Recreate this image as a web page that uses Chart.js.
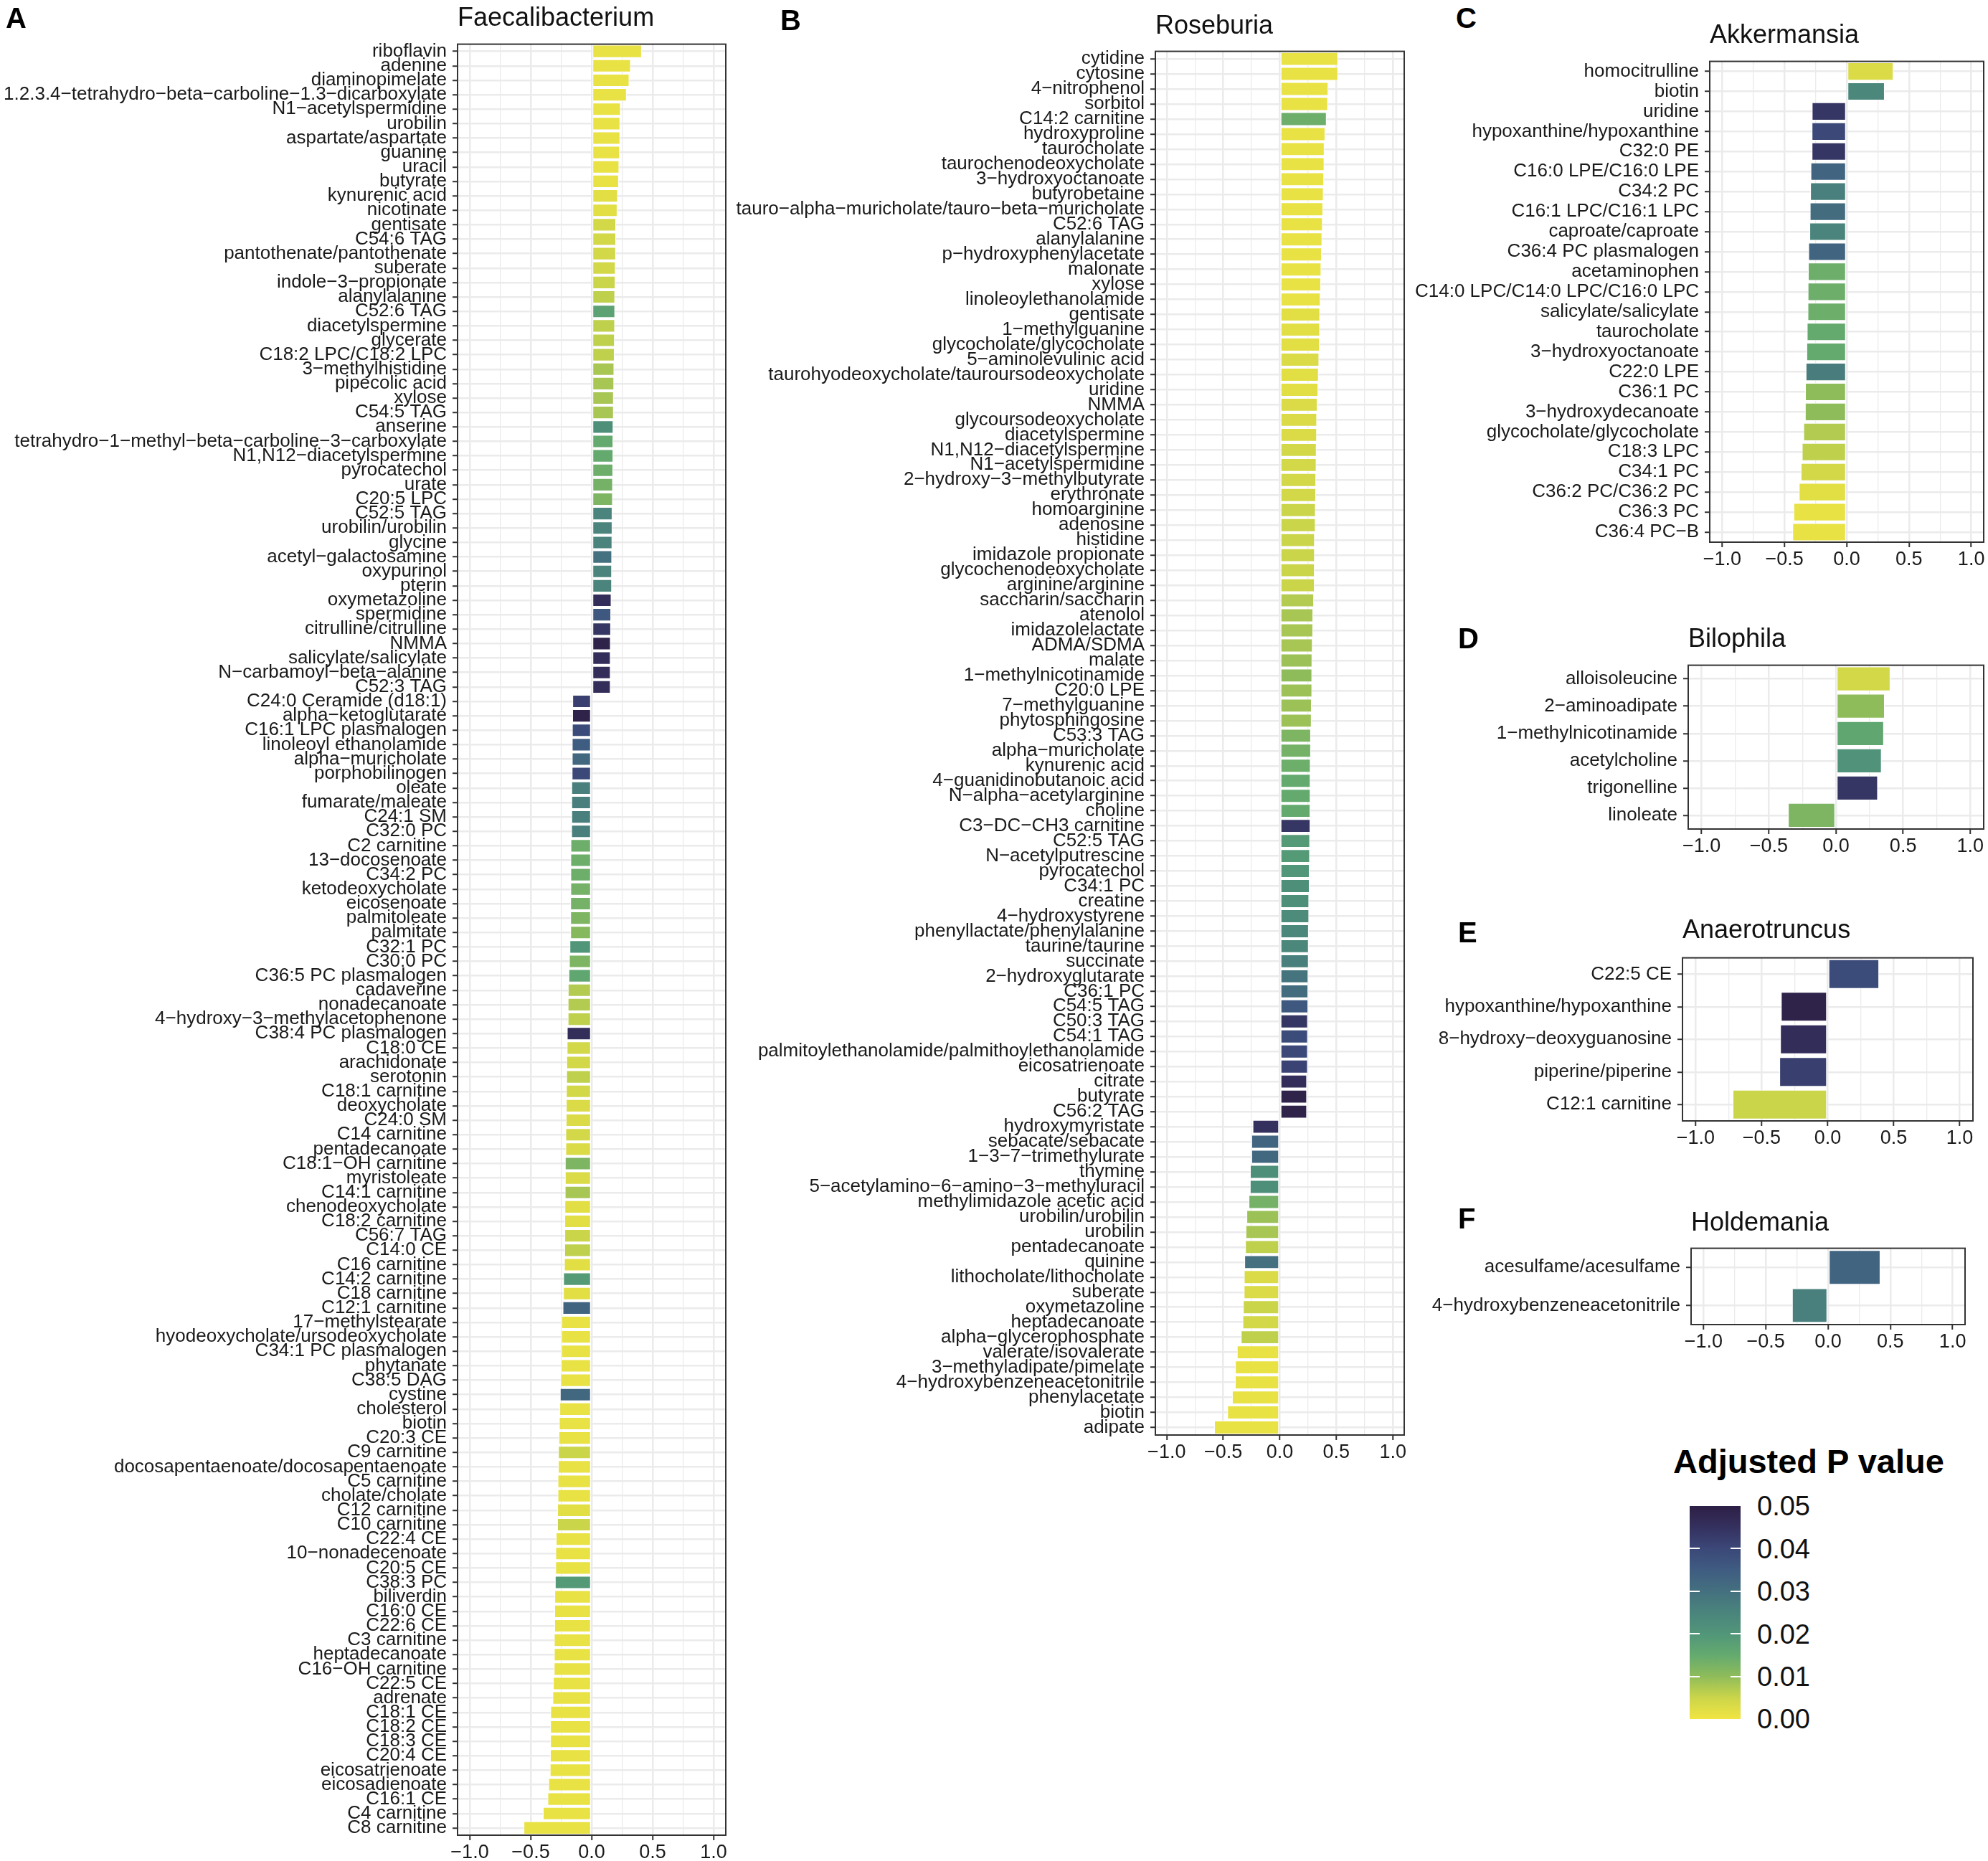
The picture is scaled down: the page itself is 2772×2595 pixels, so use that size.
<!DOCTYPE html>
<html>
<head>
<meta charset="utf-8">
<script src="https://cdn.jsdelivr.net/npm/chart.js@4/dist/chart.umd.min.js"></script>
<style>
html, body { margin: 0; padding: 0; background: #fff; overflow: hidden; }
#page { position: relative; width: 2772px; height: 2595px; background: #fff;
  font-family: 'Liberation Sans', Arial, Helvetica, sans-serif; color: #000; }
.cbox { position: absolute; }
.tag { position: absolute; font-weight: bold; font-size: 40px; line-height: 40px; }
.ttl { position: absolute; font-size: 36px; line-height: 36px; white-space: nowrap; color: #111; }
.lgt { position: absolute; font-weight: bold; font-size: 47px; line-height: 47px; white-space: nowrap; }
.lgl { position: absolute; font-size: 38px; line-height: 38px; color: #111; }
.lgk { position: absolute; height: 2px; width: 14px; background: #fff; }
</style>
</head>
<body>
<div id="page"></div>
<script>
// ---- data ----
const faecaliLabels = ['riboflavin','adenine','diaminopimelate','1.2.3.4-tetrahydro-beta-carboline-1.3-dicarboxylate','N1-acetylspermidine','urobilin','aspartate/aspartate','guanine','uracil','butyrate','kynurenic acid','nicotinate','gentisate','C54:6 TAG','pantothenate/pantothenate','suberate','indole-3-propionate','alanylalanine','C52:6 TAG','diacetylspermine','glycerate','C18:2 LPC/C18:2 LPC','3-methylhistidine','pipecolic acid','xylose','C54:5 TAG','anserine','tetrahydro-1-methyl-beta-carboline-3-carboxylate','N1,N12-diacetylspermine','pyrocatechol','urate','C20:5 LPC','C52:5 TAG','urobilin/urobilin','glycine','acetyl-galactosamine','oxypurinol','pterin','oxymetazoline','spermidine','citrulline/citrulline','NMMA','salicylate/salicylate','N-carbamoyl-beta-alanine','C52:3 TAG','C24:0 Ceramide (d18:1)','alpha-ketoglutarate','C16:1 LPC plasmalogen','linoleoyl ethanolamide','alpha-muricholate','porphobilinogen','oleate','fumarate/maleate','C24:1 SM','C32:0 PC','C2 carnitine','13-docosenoate','C34:2 PC','ketodeoxycholate','eicosenoate','palmitoleate','palmitate','C32:1 PC','C30:0 PC','C36:5 PC plasmalogen','cadaverine','nonadecanoate','4-hydroxy-3-methylacetophenone','C38:4 PC plasmalogen','C18:0 CE','arachidonate','serotonin','C18:1 carnitine','deoxycholate','C24:0 SM','C14 carnitine','pentadecanoate','C18:1-OH carnitine','myristoleate','C14:1 carnitine','chenodeoxycholate','C18:2 carnitine','C56:7 TAG','C14:0 CE','C16 carnitine','C14:2 carnitine','C18 carnitine','C12:1 carnitine','17-methylstearate','hyodeoxycholate/ursodeoxycholate','C34:1 PC plasmalogen','phytanate','C38:5 DAG','cystine','cholesterol','biotin','C20:3 CE','C9 carnitine','docosapentaenoate/docosapentaenoate','C5 carnitine','cholate/cholate','C12 carnitine','C10 carnitine','C22:4 CE','10-nonadecenoate','C20:5 CE','C38:3 PC','biliverdin','C16:0 CE','C22:6 CE','C3 carnitine','heptadecanoate','C16-OH carnitine','C22:5 CE','adrenate','C18:1 CE','C18:2 CE','C18:3 CE','C20:4 CE','eicosatrienoate','eicosadienoate','C16:1 CE','C4 carnitine','C8 carnitine'];
const faecaliValues = [0.411,0.321,0.309,0.287,0.238,0.234,0.234,0.230,0.226,0.223,0.215,0.211,0.200,0.200,0.199,0.196,0.195,0.192,0.192,0.191,0.189,0.188,0.185,0.184,0.181,0.181,0.178,0.177,0.177,0.176,0.174,0.173,0.170,0.170,0.169,0.167,0.166,0.166,0.162,0.159,0.158,0.156,0.155,0.155,0.155,-0.158,-0.159,-0.161,-0.162,-0.162,-0.163,-0.166,-0.166,-0.166,-0.167,-0.173,-0.174,-0.174,-0.174,-0.175,-0.175,-0.175,-0.181,-0.185,-0.189,-0.195,-0.196,-0.196,-0.203,-0.204,-0.207,-0.208,-0.210,-0.211,-0.212,-0.215,-0.215,-0.219,-0.219,-0.220,-0.222,-0.223,-0.223,-0.224,-0.226,-0.233,-0.234,-0.238,-0.248,-0.249,-0.249,-0.253,-0.256,-0.260,-0.264,-0.268,-0.271,-0.275,-0.276,-0.279,-0.279,-0.282,-0.283,-0.294,-0.297,-0.298,-0.301,-0.305,-0.306,-0.306,-0.309,-0.309,-0.310,-0.317,-0.321,-0.339,-0.340,-0.340,-0.341,-0.343,-0.355,-0.362,-0.400,-0.558];
const faecaliP = [0.001,0.001,0.001,0.001,0.001,0.001,0.001,0.001,0.001,0.001,0.002,0.002,0.004,0.004,0.004,0.004,0.005,0.006,0.017,0.006,0.006,0.006,0.008,0.008,0.008,0.008,0.022,0.015,0.015,0.014,0.013,0.012,0.025,0.025,0.025,0.030,0.025,0.025,0.046,0.036,0.044,0.049,0.046,0.046,0.046,0.042,0.049,0.039,0.035,0.032,0.040,0.026,0.026,0.026,0.026,0.014,0.014,0.014,0.013,0.013,0.012,0.011,0.020,0.012,0.016,0.007,0.007,0.006,0.046,0.004,0.004,0.006,0.004,0.003,0.003,0.004,0.003,0.012,0.003,0.008,0.002,0.002,0.005,0.006,0.002,0.019,0.002,0.033,0.001,0.001,0.001,0.001,0.001,0.032,0.001,0.001,0.001,0.005,0.001,0.001,0.001,0.002,0.005,0.001,0.001,0.001,0.019,0.001,0.001,0.001,0.001,0.001,0.001,0.001,0.001,0.001,0.001,0.001,0.001,0.001,0.001,0.001,0.001,0.001];

const roseLabels = ['cytidine','cytosine','4-nitrophenol','sorbitol','C14:2 carnitine','hydroxyproline','taurocholate','taurochenodeoxycholate','3-hydroxyoctanoate','butyrobetaine','tauro-alpha-muricholate/tauro-beta-muricholate','C52:6 TAG','alanylalanine','p-hydroxyphenylacetate','malonate','xylose','linoleoylethanolamide','gentisate','1-methylguanine','glycocholate/glycocholate','5-aminolevulinic acid','taurohyodeoxycholate/tauroursodeoxycholate','uridine','NMMA','glycoursodeoxycholate','diacetylspermine','N1,N12-diacetylspermine','N1-acetylspermidine','2-hydroxy-3-methylbutyrate','erythronate','homoarginine','adenosine','histidine','imidazole propionate','glycochenodeoxycholate','arginine/arginine','saccharin/saccharin','atenolol','imidazolelactate','ADMA/SDMA','malate','1-methylnicotinamide','C20:0 LPE','7-methylguanine','phytosphingosine','C53:3 TAG','alpha-muricholate','kynurenic acid','4-guanidinobutanoic acid','N-alpha-acetylarginine','choline','C3-DC-CH3 carnitine','C52:5 TAG','N-acetylputrescine','pyrocatechol','C34:1 PC','creatine','4-hydroxystyrene','phenyllactate/phenylalanine','taurine/taurine','succinate','2-hydroxyglutarate','C36:1 PC','C54:5 TAG','C50:3 TAG','C54:1 TAG','palmitoylethanolamide/palmithoylethanolamide','eicosatrienoate','citrate','butyrate','C56:2 TAG','hydroxymyristate','sebacate/sebacate','1-3-7-trimethylurate','thymine','5-acetylamino-6-amino-3-methyluracil','methylimidazole acetic acid','urobilin/urobilin','urobilin','pentadecanoate','quinine','lithocholate/lithocholate','suberate','oxymetazoline','heptadecanoate','alpha-glycerophosphate','valerate/isovalerate','3-methyladipate/pimelate','4-hydroxybenzeneacetonitrile','phenylacetate','biotin','adipate'];
const roseValues = [0.515,0.515,0.429,0.426,0.414,0.402,0.395,0.394,0.391,0.387,0.383,0.379,0.375,0.371,0.367,0.364,0.360,0.356,0.355,0.352,0.348,0.344,0.340,0.333,0.329,0.328,0.325,0.324,0.321,0.320,0.317,0.316,0.309,0.309,0.308,0.308,0.302,0.295,0.294,0.290,0.287,0.286,0.286,0.282,0.281,0.275,0.275,0.272,0.271,0.271,0.270,0.270,0.267,0.266,0.263,0.263,0.259,0.259,0.256,0.255,0.255,0.252,0.251,0.251,0.248,0.248,0.247,0.247,0.240,0.240,0.240,-0.240,-0.251,-0.251,-0.263,-0.264,-0.275,-0.294,-0.302,-0.306,-0.313,-0.317,-0.318,-0.325,-0.329,-0.344,-0.379,-0.395,-0.396,-0.422,-0.464,-0.580];
const roseP = [0.001,0.001,0.001,0.001,0.014,0.001,0.001,0.001,0.001,0.001,0.001,0.001,0.001,0.001,0.001,0.001,0.001,0.002,0.002,0.002,0.003,0.002,0.002,0.003,0.003,0.003,0.004,0.004,0.004,0.004,0.005,0.005,0.005,0.005,0.005,0.005,0.007,0.008,0.008,0.008,0.009,0.010,0.009,0.009,0.009,0.012,0.013,0.014,0.015,0.015,0.015,0.044,0.019,0.019,0.020,0.022,0.022,0.023,0.024,0.024,0.026,0.029,0.031,0.036,0.044,0.039,0.040,0.041,0.046,0.049,0.049,0.045,0.033,0.032,0.022,0.022,0.013,0.009,0.008,0.006,0.030,0.003,0.003,0.005,0.004,0.006,0.001,0.001,0.001,0.001,0.001,0.001];

const akkLabels = ['homocitrulline','biotin','uridine','hypoxanthine/hypoxanthine','C32:0 PE','C16:0 LPE/C16:0 LPE','C34:2 PC','C16:1 LPC/C16:1 LPC','caproate/caproate','C36:4 PC plasmalogen','acetaminophen','C14:0 LPC/C14:0 LPC/C16:0 LPC','salicylate/salicylate','taurocholate','3-hydroxyoctanoate','C22:0 LPE','C36:1 PC','3-hydroxydecanoate','glycocholate/glycocholate','C18:3 LPC','C34:1 PC','C36:2 PC/C36:2 PC','C36:3 PC','C36:4 PC-B'];
const akkValues = [0.375,0.305,-0.280,-0.281,-0.281,-0.290,-0.293,-0.296,-0.299,-0.308,-0.311,-0.313,-0.314,-0.320,-0.323,-0.329,-0.334,-0.335,-0.348,-0.360,-0.369,-0.384,-0.427,-0.436];
const akkP = [0.003,0.024,0.044,0.040,0.044,0.033,0.026,0.031,0.025,0.033,0.014,0.014,0.014,0.015,0.015,0.027,0.010,0.010,0.007,0.006,0.004,0.002,0.001,0.001];

const biloLabels = ['alloisoleucine','2-aminoadipate','1-methylnicotinamide','acetylcholine','trigonelline','linoleate'];
const biloValues = [0.405,0.363,0.357,0.340,0.312,-0.357];
const biloP = [0.004,0.010,0.016,0.021,0.044,0.012];

const anaeLabels = ['C22:5 CE','hypoxanthine/hypoxanthine','8-hydroxy-deoxyguanosine','piperine/piperine','C12:1 carnitine'];
const anaeValues = [0.389,-0.354,-0.360,-0.366,-0.720];
const anaeP = [0.039,0.049,0.046,0.042,0.005];

const holdLabels = ['acesulfame/acesulfame','4-hydroxybenzeneacetonitrile'];
const holdValues = [0.420,-0.289];
const holdP = [0.033,0.026];

const xTicks = [-1, -0.75, -0.5, -0.25, 0, 0.25, 0.5, 0.75, 1];
const legendTicks = [0.00, 0.01, 0.02, 0.03, 0.04, 0.05];

// ---- style ----
const P_MAX = 0.05;
const P_STOPS = ['#f1e542','#cbd54a','#8fbc5a','#64aa6f','#519679','#4a847c','#44707f','#3f5c81','#3b4878','#35315f','#2d1f45'];
const PAD_TOP = 20, PAD_R = 6, AX_H = 36;

Chart.defaults.font.family = "'Liberation Sans', Arial, Helvetica, sans-serif";

function hexRgb(h) {
  return [1, 3, 5].map(i => parseInt(h.slice(i, i + 2), 16));
}
function pColor(p) {
  const t = Math.max(0, Math.min(1, p / P_MAX)) * (P_STOPS.length - 1);
  const i = Math.min(Math.floor(t), P_STOPS.length - 2);
  const f = t - i;
  const a = hexRgb(P_STOPS[i]), b = hexRgb(P_STOPS[i + 1]);
  const c = a.map((v, k) => Math.round(v + (b[k] - v) * f));
  return 'rgb(' + c.join(',') + ')';
}
const isMajor = v => Math.abs(v * 2 - Math.round(v * 2)) < 1e-6;
const fmt = v => (v < 0 ? '\u2212' : '') + Math.abs(v).toFixed(1);

const frame = {
  id: 'frame',
  afterDraw(chart) {
    const { ctx, chartArea: a } = chart;
    ctx.save();
    ctx.strokeStyle = '#333';
    ctx.lineWidth = 2;
    ctx.strokeRect(a.left, a.top, a.right - a.left, a.bottom - a.top);
    ctx.restore();
  }
};

const page = document.getElementById('page');

function addText(cls, text, left, top) {
  const d = document.createElement('div');
  d.className = cls;
  d.textContent = text;
  d.style.left = left + 'px';
  d.style.top = top + 'px';
  page.appendChild(d);
  return d;
}

function makePanel(box, labels, values, pvals) {
  const wrap = document.createElement('div');
  wrap.className = 'cbox';
  wrap.style.left = box.left + 'px';
  wrap.style.top = (box.plotTop - PAD_TOP) + 'px';
  wrap.style.width = (box.plotRight + PAD_R - box.left) + 'px';
  wrap.style.height = (PAD_TOP + box.plotBottom - box.plotTop + AX_H) + 'px';
  const cv = document.createElement('canvas');
  wrap.appendChild(cv);
  page.appendChild(wrap);

  new Chart(cv, {
    type: 'bar',
    data: {
      labels: labels,
      datasets: [{
        data: values,
        backgroundColor: pvals.map(pColor),
        borderColor: '#fff',
        borderWidth: 1,
        borderSkipped: false,
        barPercentage: 0.9,
        categoryPercentage: 1
      }]
    },
    options: {
      indexAxis: 'y',
      responsive: true,
      maintainAspectRatio: false,
      animation: false,
      devicePixelRatio: 1,
      layout: { padding: { top: PAD_TOP, right: PAD_R, left: 0, bottom: 0 } },
      plugins: { legend: { display: false }, tooltip: { enabled: false } },
      scales: {
        x: {
          type: 'linear', min: -1.1, max: 1.1,
          afterBuildTicks: s => { s.ticks = xTicks.map(v => ({ value: v })); },
          afterFit: s => { s.height = AX_H; },
          ticks: { autoSkip: false, maxRotation: 0, padding: 1, color: '#1a1a1a', font: { size: 27 },
            callback: v => isMajor(v) ? fmt(v) : '' },
          grid: { color: '#ebebeb', lineWidth: c => isMajor(c.tick.value) ? 2.5 : 1.3,
            tickLength: 7, tickWidth: 2,
            tickColor: c => isMajor(c.tick.value) ? '#333' : 'rgba(0,0,0,0)' },
          border: { display: false }
        },
        y: {
          type: 'category',
          afterFit: s => { s.width = box.plotLeft - box.left; },
          ticks: { autoSkip: false, padding: 8, color: '#1a1a1a', font: { size: 26 },
            callback: function (v) { return this.getLabelForValue(v).replace(/-/g, '\u2212'); } },
          grid: { offset: false, color: '#ebebeb', lineWidth: 2.5, tickLength: 7, tickWidth: 2, tickColor: '#333' },
          border: { display: false }
        }
      }
    },
    plugins: [frame]
  });
}

window.addEventListener('load', () => {
  makePanel({ left: 0, plotLeft: 638, plotRight: 1012, plotTop: 58, plotBottom: 2559 }, faecaliLabels, faecaliValues, faecaliP);
  makePanel({ left: 1015, plotLeft: 1611, plotRight: 1958, plotTop: 68, plotBottom: 2001 }, roseLabels, roseValues, roseP);
  makePanel({ left: 1965, plotLeft: 2384, plotRight: 2766, plotTop: 82, plotBottom: 756 }, akkLabels, akkValues, akkP);
  makePanel({ left: 1965, plotLeft: 2354, plotRight: 2766, plotTop: 924, plotBottom: 1156 }, biloLabels, biloValues, biloP);
  makePanel({ left: 1965, plotLeft: 2346, plotRight: 2751, plotTop: 1332, plotBottom: 1563 }, anaeLabels, anaeValues, anaeP);
  makePanel({ left: 1965, plotLeft: 2358, plotRight: 2740, plotTop: 1737, plotBottom: 1847 }, holdLabels, holdValues, holdP);

  // panel titles and letters
  addText('ttl', 'Faecalibacterium', 638, 6);
  addText('ttl', 'Roseburia', 1611, 17);
  addText('ttl', 'Akkermansia', 2384, 30);
  addText('ttl', 'Bilophila', 2354, 872);
  addText('ttl', 'Anaerotruncus', 2346, 1278);
  addText('ttl', 'Holdemania', 2358, 1686);
  addText('tag', 'A', 8, 5);
  addText('tag', 'B', 1088, 8);
  addText('tag', 'C', 2030, 5);
  addText('tag', 'D', 2033, 870);
  addText('tag', 'E', 2033, 1280);
  addText('tag', 'F', 2033, 1679);

  // colour bar legend
  const barTop = 2100, barH = 297, barL = 2356, barW = 71;
  addText('lgt', 'Adjusted P value', 2333, 2014);
  const bar = document.createElement('div');
  bar.style.cssText = 'position:absolute;left:' + barL + 'px;top:' + barTop + 'px;width:' + barW + 'px;height:' + barH +
    'px;background:linear-gradient(to top,' + P_STOPS.join(',') + ')';
  page.appendChild(bar);
  legendTicks.forEach(p => {
    const y = barTop + barH * (1 - p / P_MAX);
    addText('lgl', p.toFixed(2), 2450, Math.round(y - 18.6));
    if (p > 0 && p < P_MAX) {
      [barL, barL + barW - 14].forEach(x => {
        const k = document.createElement('div');
        k.className = 'lgk';
        k.style.left = x + 'px';
        k.style.top = Math.round(y - 1) + 'px';
        page.appendChild(k);
      });
    }
  });
});
</script>
</body>
</html>
